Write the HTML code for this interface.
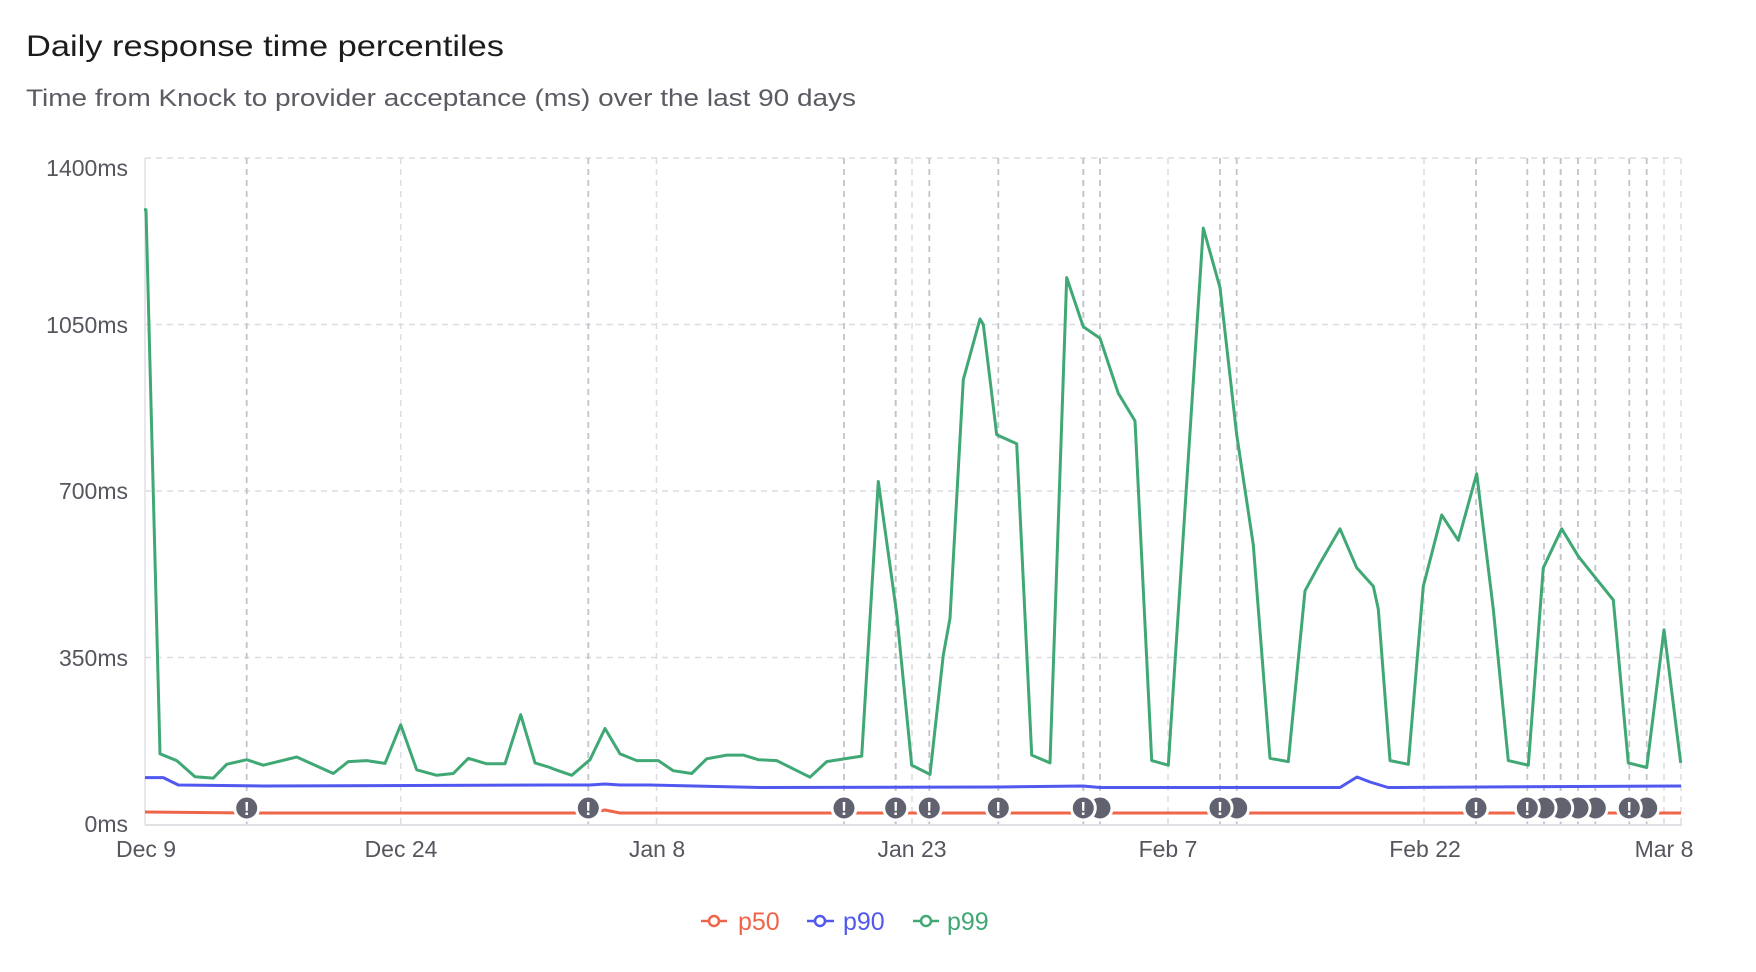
<!DOCTYPE html>
<html><head><meta charset="utf-8"><style>
html,body{margin:0;padding:0;background:#fff;}
svg{display:block;font-family:"Liberation Sans",sans-serif;}
</style></head><body>
<svg width="1756" height="972" viewBox="0 0 1756 972" xmlns="http://www.w3.org/2000/svg">
<text x="26" y="56" font-size="30" fill="#1c1c1f" textLength="478" lengthAdjust="spacingAndGlyphs">Daily response time percentiles</text>
<text x="26" y="106" font-size="24" fill="#5a5b63" textLength="830" lengthAdjust="spacingAndGlyphs">Time from Knock to provider acceptance (ms) over the last 90 days</text>

<g stroke="#dcdce2" stroke-width="1.5" stroke-dasharray="6 5" fill="none">
<line x1="145" y1="158" x2="1682" y2="158"/>
<line x1="145" y1="324.5" x2="1682" y2="324.5"/>
<line x1="145" y1="491" x2="1682" y2="491"/>
<line x1="145" y1="657.5" x2="1682" y2="657.5"/>
<line x1="400.7" y1="158" x2="400.7" y2="824"/>
<line x1="656.5" y1="158" x2="656.5" y2="824"/>
<line x1="912" y1="158" x2="912" y2="824"/>
<line x1="1168" y1="158" x2="1168" y2="824"/>
<line x1="1424" y1="158" x2="1424" y2="824"/>
<line x1="1664" y1="158" x2="1664" y2="824"/>
<line x1="1681" y1="158" x2="1681" y2="824"/>
</g>
<g stroke="#c2c4cb" stroke-width="1.8" stroke-dasharray="6 5" fill="none">
<line x1="246.7" y1="158" x2="246.7" y2="824"/><line x1="588.3" y1="158" x2="588.3" y2="824"/>
<line x1="844" y1="158" x2="844" y2="824"/><line x1="895.7" y1="158" x2="895.7" y2="824"/>
<line x1="895.7" y1="158" x2="895.7" y2="824"/><line x1="929.3" y1="158" x2="929.3" y2="824"/>
<line x1="998.3" y1="158" x2="998.3" y2="824"/><line x1="1083.3" y1="158" x2="1083.3" y2="824"/>
<line x1="1083.3" y1="158" x2="1083.3" y2="824"/><line x1="1100" y1="158" x2="1100" y2="824"/>
<line x1="1220" y1="158" x2="1220" y2="824"/><line x1="1236.7" y1="158" x2="1236.7" y2="824"/>
<line x1="1476" y1="158" x2="1476" y2="824"/><line x1="1527.3" y1="158" x2="1527.3" y2="824"/>
<line x1="1544" y1="158" x2="1544" y2="824"/><line x1="1560.7" y1="158" x2="1560.7" y2="824"/>
<line x1="1560.7" y1="158" x2="1560.7" y2="824"/><line x1="1578" y1="158" x2="1578" y2="824"/>
<line x1="1595.3" y1="158" x2="1595.3" y2="824"/><line x1="1629.3" y1="158" x2="1629.3" y2="824"/>
<line x1="1646.7" y1="158" x2="1646.7" y2="824"/>
</g>
<line x1="145" y1="158" x2="145" y2="825" stroke="#e0e0e5" stroke-width="1.5"/>
<line x1="145" y1="825" x2="1682" y2="825" stroke="#e0e0e5" stroke-width="2"/>

<g font-size="23" fill="#55565e" text-anchor="end">
<text x="128" y="176">1400ms</text>
<text x="128" y="333">1050ms</text>
<text x="128" y="499">700ms</text>
<text x="128" y="666">350ms</text>
<text x="128" y="832">0ms</text>
</g>
<g font-size="23" fill="#55565e" text-anchor="middle">
<text x="146" y="857">Dec 9</text>
<text x="401" y="857">Dec 24</text>
<text x="657" y="857">Jan 8</text>
<text x="912" y="857">Jan 23</text>
<text x="1168" y="857">Feb 7</text>
<text x="1425" y="857">Feb 22</text>
<text x="1664" y="857">Mar 8</text>
</g>

<polyline fill="none" stroke="#ef6549" stroke-width="3" stroke-linejoin="round" points="145,812 250,813 500,813 590,813 605,810 620,813 1681,813"/>
<polyline fill="none" stroke="#5058ef" stroke-width="3" stroke-linejoin="round" points="145,777.6 163.3,777.6 178.3,785 263,786 550,785 590,785 605,784 620,785 650,785 760,787.5 1000,787 1083,786 1100,787.5 1340,787.5 1357,777 1370,782 1388,787.5 1681,786"/>
<polyline fill="none" stroke="#40a874" stroke-width="3" stroke-linejoin="round" points="144,209.7 146,209.7 160,753.8 176.7,760.6 195,776.7 213.3,778.1 226.7,764.3 246.7,759.7 263.3,765.2 296.7,757 333.3,773.5 348.3,761.6 366.7,760.6 385,763.4 400.7,724.8 416.7,769.8 436.7,775.3 453.3,773.5 468.3,758.3 486.7,763.8 505,763.8 520.7,714.7 535,762.9 550,767.5 553.3,768.9 571.7,775.3 590,759.7 605,728.5 620,753.8 636.7,760.6 658.3,760.6 673.3,770.7 691.7,773.5 706.7,758.8 726.7,755.1 743.3,755.1 758.3,759.7 776.7,760.6 810,777.2 826.7,761.6 861.7,756.1 878.3,481.5 896.7,613.7 911.7,765.2 930,774.4 943.3,655 950,618.3 963.3,379.6 980,319 983.3,324.5 996.7,434.7 1016.7,443.8 1031.7,755.1 1050,762.9 1066.7,277.6 1083.3,326.8 1100,338.2 1118.3,393.3 1135,420.9 1151.7,760.6 1168.3,765.2 1203.3,228.1 1220,287.7 1236.7,434.7 1253.3,544.9 1270,758.3 1288.3,761.6 1305,590.8 1320,563.2 1340,528.8 1356.7,567.8 1373.3,586.2 1378.3,609.1 1390,760.6 1408.3,764.3 1423.3,586.2 1441.7,515 1458.3,540.3 1476.7,473.7 1493.3,609.1 1508.3,760.6 1528.3,765.2 1543.3,567.8 1561.7,528.8 1578.3,556.3 1596.7,579.3 1613.3,600 1628.3,762.9 1646.7,767.5 1664,629.8 1680.7,762.9"/>

<g stroke="#fff" stroke-width="3" fill="#60636f">
<circle cx="1646.7" cy="808" r="12"/><circle cx="1629.3" cy="808" r="12"/>
<circle cx="1595.3" cy="808" r="12"/><circle cx="1578" cy="808" r="12"/><circle cx="1560.7" cy="808" r="12"/><circle cx="1544" cy="808" r="12"/><circle cx="1527.3" cy="808" r="12"/>
<circle cx="1476" cy="808" r="12"/>
<circle cx="1236.7" cy="808" r="12"/><circle cx="1220" cy="808" r="12"/>
<circle cx="1100" cy="808" r="12"/><circle cx="1083.3" cy="808" r="12"/>
<circle cx="998.3" cy="808" r="12"/><circle cx="929.3" cy="808" r="12"/><circle cx="895.7" cy="808" r="12"/><circle cx="844" cy="808" r="12"/>
<circle cx="588.3" cy="808" r="12"/><circle cx="246.7" cy="808" r="12"/>
</g>
<g font-size="18" font-weight="bold" fill="#fff" text-anchor="middle">
<text x="246.7" y="815">!</text><text x="588.3" y="815">!</text><text x="844" y="815">!</text><text x="895.7" y="815">!</text><text x="929.3" y="815">!</text><text x="998.3" y="815">!</text><text x="1083.3" y="815">!</text><text x="1220" y="815">!</text><text x="1476" y="815">!</text><text x="1527.3" y="815">!</text><text x="1629.3" y="815">!</text>
</g>

<g stroke-width="2.5" fill="#fff">
<line x1="701" y1="921" x2="727" y2="921" stroke="#ef6549"/><circle cx="714" cy="921" r="5" stroke="#ef6549"/>
<line x1="807" y1="921" x2="834" y2="921" stroke="#5058ef"/><circle cx="820" cy="921" r="5" stroke="#5058ef"/>
<line x1="913" y1="921" x2="939" y2="921" stroke="#40a874"/><circle cx="926" cy="921" r="5" stroke="#40a874"/>
</g>
<g font-size="25">
<text x="738" y="930" fill="#ef6549">p50</text>
<text x="843" y="930" fill="#5058ef">p90</text>
<text x="947" y="930" fill="#40a874">p99</text>
</g>
</svg>
</body></html>
